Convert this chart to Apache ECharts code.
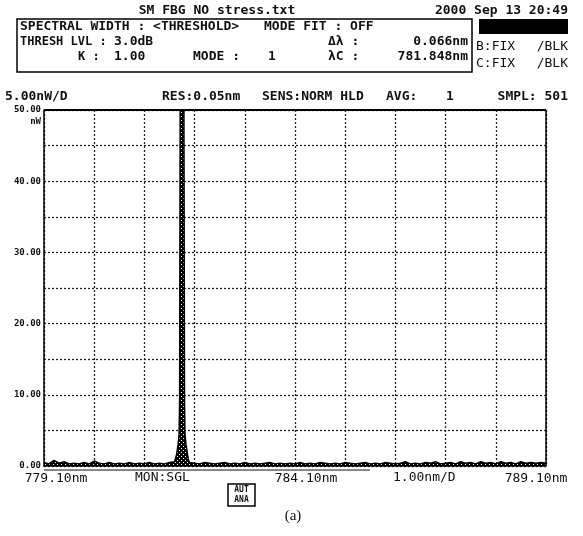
<!DOCTYPE html>
<html><head><meta charset="utf-8">
<script src="https://cdn.jsdelivr.net/npm/echarts@6/dist/echarts.min.js"></script>
<style>html,body{margin:0;padding:0;background:#fff}#c{width:583px;height:536px}</style>
</head><body><div id="c"></div>
<script>
// ---- data ----
const startWl = 779.10;           // nm, left edge of the sweep
const spanPerDiv = 1.0;           // nm/div
const wavelengths = [
 779.1,779.2,779.3,779.4,779.5,779.6,779.7,779.8,779.9,780.0,
 780.1,780.2,780.3,780.4,780.5,780.6,780.7,780.8,780.9,781.0,
 781.1,781.2,781.3,781.4,781.5,781.6,781.7,
 781.72,781.74,781.77,781.79,781.80,781.81,781.815,781.85,781.885,781.89,781.90,781.91,781.93,781.96,781.98,
 782.0,782.1,782.2,782.3,782.4,782.5,782.6,782.7,782.8,782.9,
 783.0,783.1,783.2,783.3,783.4,783.5,783.6,783.7,783.8,783.9,
 784.0,784.1,784.2,784.3,784.4,784.5,784.6,784.7,784.8,784.9,
 785.0,785.1,785.2,785.3,785.4,785.5,785.6,785.7,785.8,785.9,
 786.0,786.1,786.2,786.3,786.4,786.5,786.6,786.7,786.8,786.9,
 787.0,787.1,787.2,787.3,787.4,787.5,787.6,787.7,787.8,787.9,
 788.0,788.1,788.2,788.3,788.4,788.5,788.6,788.7,788.8,788.9,
 789.0,789.1
];
const powerNW = [
 0.5,0.3,0.8,0.4,0.6,0.3,0.4,0.3,0.5,0.3,
 0.7,0.4,0.3,0.5,0.3,0.4,0.3,0.5,0.3,0.4,
 0.3,0.5,0.3,0.4,0.3,0.5,0.6,
 0.8,1.6,3.0,4.4,9,44,62,64,62,44,9,4.4,3.0,1.6,0.8,
 0.5,0.4,0.3,0.5,0.4,0.3,0.4,0.5,0.3,0.4,
 0.3,0.5,0.3,0.4,0.3,0.4,0.5,0.3,0.4,0.3,
 0.4,0.3,0.5,0.3,0.4,0.3,0.5,0.4,0.3,0.4,
 0.3,0.5,0.4,0.3,0.4,0.5,0.3,0.4,0.3,0.5,
 0.4,0.3,0.4,0.6,0.3,0.4,0.3,0.5,0.4,0.6,
 0.3,0.4,0.5,0.3,0.6,0.4,0.5,0.3,0.6,0.4,
 0.5,0.3,0.6,0.4,0.5,0.3,0.6,0.4,0.5,0.4,
 0.5,0.4
];
const xTickLabels = {0:'779.10nm', 5:'784.10nm', 10:'789.10nm'};
const yTickLabels = {0:'0.00',10:'10.00',20:'20.00',30:'30.00',40:'40.00',50:'50.00'};

// ---- chart ----
const MONO = '"DejaVu Sans Mono", "Liberation Mono", monospace';
const chart = echarts.init(document.getElementById('c'), null, {renderer:'canvas'});
const seriesData = wavelengths.map((w,i)=>[+((w-startWl)/spanPerDiv).toFixed(4), powerNW[i]]);

// speckled fill like the instrument's dithered trace
const pat = document.createElement('canvas'); pat.width = 4; pat.height = 4;
const pc = pat.getContext('2d'); pc.fillStyle = '#000'; pc.fillRect(0,0,4,4);
pc.fillStyle = '#fff'; pc.fillRect(1,0,1,1); pc.fillRect(3,2,1,1);

function T(text, x, y, align, size, extra){
  extra = extra || {};
  return {type:'text', x:x, y:y, z:10,
    style:{text:text, fill:'#111', align:align||'left', verticalAlign:'middle',
      font:(extra.weight||'bold')+' '+(size||13)+'px '+(extra.family||MONO)}};
}

const option = {
  backgroundColor:'#fff',
  animation:false,
  grid:{left:44, right:37, top:110, bottom:70, containLabel:false},
  xAxis:{type:'value', min:0, max:10, interval:1,
    axisLine:{show:true, onZero:false, lineStyle:{color:'#000', width:1.5}},
    axisTick:{show:false},
    splitLine:{show:true, lineStyle:{color:'#222', type:[2,2], width:1.3}},
    axisLabel:{show:true, margin:6, color:'#111', fontFamily:MONO, fontSize:13,
      formatter:v=>{ const k=Math.round(v); if(!(k in xTickLabels)) return '';
        return '{'+(k===0?'l':k===5?'m':'r')+'|'+xTickLabels[k]+'}'; },
      rich:{l:{padding:[0,0,0,24], fontFamily:MONO, fontSize:13, color:'#111'},
            m:{padding:[0,0,0,22], fontFamily:MONO, fontSize:13, color:'#111'},
            r:{padding:[0,20,0,0], fontFamily:MONO, fontSize:13, color:'#111'}}}
  },
  yAxis:{type:'value', min:0, max:50, interval:5,
    axisLine:{show:true, lineStyle:{color:'#000', width:1.5}},
    axisTick:{show:false},
    splitLine:{show:true, lineStyle:{color:'#222', type:[2,2], width:1.3}},
    axisLabel:{show:true, margin:3, color:'#111', fontFamily:MONO, fontWeight:'bold', fontSize:9,
      formatter:v=>{const k=Math.round(v); return (k in yTickLabels)?yTickLabels[k]:'';}}
  },
  series:[{
    type:'line', data:seriesData, symbol:'none', clip:true,
    lineStyle:{color:'#000', width:1.4},
    areaStyle:{color:{image:pat, repeat:'repeat'}, opacity:1},
    z:5
  }],
  graphic:[
    {type:'line', shape:{x1:44,y1:110,x2:546,y2:110}, style:{stroke:'#000', lineWidth:2}, z:9},
    {type:'line', shape:{x1:546,y1:110,x2:546,y2:466}, style:{stroke:'#000', lineWidth:1.5}, z:9},
    {type:'line', shape:{x1:44,y1:470,x2:370,y2:470}, style:{stroke:'#888', lineWidth:2}, z:9},
    // header
    T('SM FBG NO stress.txt', 217, 11, 'center', 13),
    T('2000 Sep 13 20:49', 568, 11, 'right', 13),
    {type:'rect', shape:{x:17,y:19,width:455,height:53}, style:{fill:'none', stroke:'#000', lineWidth:1.5}, z:9},
    {type:'rect', shape:{x:479,y:19,width:89,height:15}, style:{fill:'#000'}, z:9},
    T('SPECTRAL WIDTH : <THRESHOLD>', 20, 27, 'left', 13),
    T('MODE FIT : OFF', 264, 27, 'left', 13),
    T('THRESH LVL :', 20, 42, 'left', 12),
    T('3.0dB', 114, 42, 'left', 13),
    T('K :', 78, 57, 'left', 12),
    T('1.00', 114, 57, 'left', 13),
    T('\u0394\u03bb :', 328, 42, 'left', 13),
    T('0.066nm', 468, 42, 'right', 13),
    T('MODE :', 193, 57, 'left', 13),
    T('1', 268, 57, 'left', 13),
    T('\u03bbC :', 328, 57, 'left', 13),
    T('781.848nm', 468, 57, 'right', 13),
    T('B:FIX', 476, 47, 'left', 13, {weight:'normal'}),
    T('/BLK', 568, 47, 'right', 13, {weight:'normal'}),
    T('C:FIX', 476, 64, 'left', 13, {weight:'normal'}),
    T('/BLK', 568, 64, 'right', 13, {weight:'normal'}),
    T('5.00nW/D', 5, 97, 'left', 13),
    T('RES:0.05nm', 162, 97, 'left', 13),
    T('SENS:NORM HLD', 262, 97, 'left', 13),
    T('AVG:', 386, 97, 'left', 13),
    T('1', 446, 97, 'left', 13),
    T('SMPL: 501', 568, 97, 'right', 13),
    T('nW', 41, 122, 'right', 9),
    // bottom annotations
    T('MON:SGL', 135, 478, 'left', 13, {weight:'normal'}),
    T('1.00nm/D', 393, 478, 'left', 13, {weight:'normal'}),
    {type:'rect', shape:{x:228,y:484,width:27,height:22}, style:{fill:'none', stroke:'#000', lineWidth:1.5}, z:9},
    T('AUT', 241.5, 490, 'center', 8),
    T('ANA', 241.5, 500, 'center', 8),
    T('(a)', 293, 516, 'center', 15, {weight:'normal', family:'"Liberation Serif", serif'})
  ]
};
chart.setOption(option);
</script></body></html>
